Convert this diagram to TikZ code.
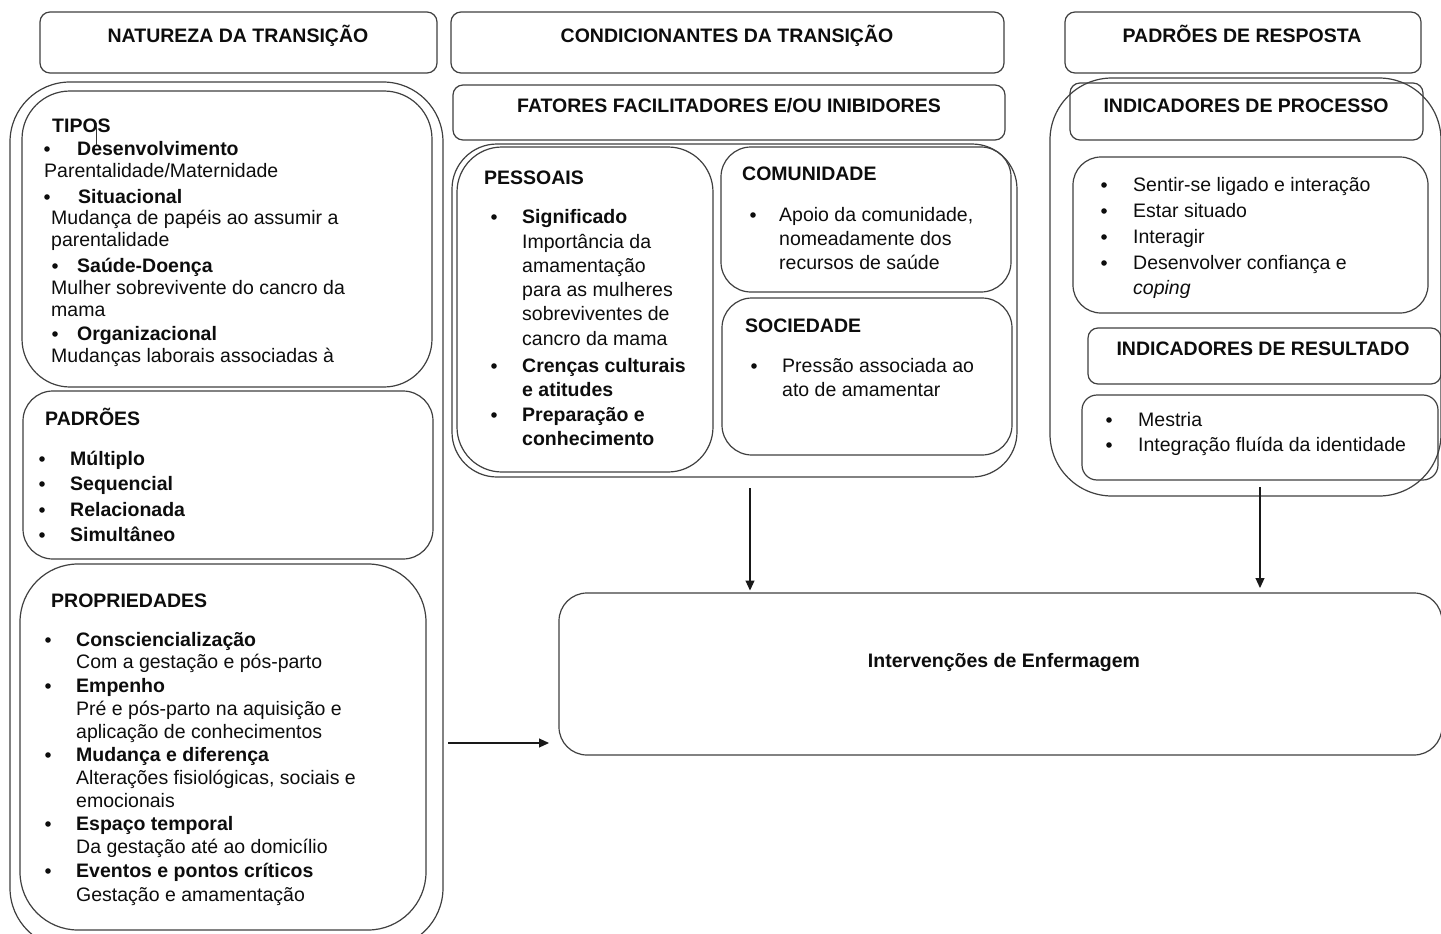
\documentclass[tikz,border=0pt]{standalone}
\usepackage{fontspec}
\setmainfont{Liberation Sans}
\usetikzlibrary{arrows.meta}
\newcounter{tn}
\newcommand\tl[3]{\stepcounter{tn}\node[txt] (t\arabic{tn}) at (#1,#2) {#3};}
\newcommand\tb[3]{\stepcounter{tn}\node[txt] (t\arabic{tn}) at (#1,#2) {\textbf{#3}};}
\newcommand\bul[2]{\stepcounter{tn}\node[dot] (t\arabic{tn}) at (#1,#2-6) {};}
\newcommand\bx[6]{\node[box,rounded corners=#6pt,minimum width={(#4-#2)*1pt},minimum height={(#5-#3)*1pt}] (#1) at ({(#2+#4)/2},{(#3+#5)/2}) {};}
\begin{document}
\begin{tikzpicture}[x=1pt,y=-1pt,
  every node/.style={font=\fontsize{19.5}{23}\selectfont},
  txt/.style={anchor=base west,inner sep=0pt,text=black!95},
  dot/.style={circle,fill=black!95,inner sep=0pt,minimum size=5.6pt},
  hdr/.style={anchor=base,inner sep=0pt,text=black!95,font=\fontsize{19.5}{23}\selectfont\bfseries},
  box/.style={draw=black!75,line width=1.2pt,inner sep=0pt,outer sep=0pt,fill=none},
  arr/.style={draw=black!90,line width=1.1pt,-{Triangle[length=10pt,width=9pt]}}]
\path[fill=white,use as bounding box] (0,0) rectangle (1441,934);

% ---------- boxes ----------
\bx{b1}{40}{12}{437}{73}{10}
\bx{b2}{451}{12}{1004}{73}{10}
\bx{b3}{1065}{12}{1421}{73}{10}
\bx{leftouter}{10}{82}{443}{948}{60}
\bx{tipos}{22}{91}{432}{387}{48}
\bx{padroes}{23}{391}{433}{559}{30}
\bx{prop}{20}{564}{426}{930}{58}
\bx{fat}{453}{85}{1005}{140}{10}
\bx{mid}{452}{144}{1017}{477}{45}
\bx{pess}{457}{147}{713}{472}{45}
\bx{com}{721}{147}{1011}{292}{30}
\bx{soc}{722}{298}{1012}{455}{30}
\bx{rightouter}{1050}{78}{1441}{496}{62}
\bx{iproc}{1070}{83}{1423}{140}{10}
\bx{plist}{1073}{157}{1428}{313}{28}
\bx{ires}{1088}{328}{1441}{384}{10}
\bx{rlist}{1082}{395}{1438}{480}{15}
\bx{int}{559}{593}{1442}{755}{28}

% ---------- headers ----------
\node[hdr] (h1) at (238,43) {NATUREZA DA TRANSIÇÃO};
\node[hdr] (h2) at (727,43) {CONDICIONANTES DA TRANSIÇÃO};
\node[hdr] (h3) at (1242,43) {PADRÕES DE RESPOSTA};
\node[hdr] (h4) at (729,112) {FATORES FACILITADORES E/OU INIBIDORES};
\node[hdr] (h5) at (1246,112) {INDICADORES DE PROCESSO};
\node[hdr] (h6) at (1263,355) {INDICADORES DE RESULTADO};
\node[hdr] (h7) at (1004,667) {Intervenções de Enfermagem};

% ---------- TIPOS ----------
\tb{52}{132}{TIPOS}
\bul{47}{155}\tb{77}{155}{Desenvolvimento}
\tl{44}{177}{Parentalidade/Maternidade}
\bul{47}{203}\tb{78}{203}{Situacional}
\tl{51}{224}{Mudança de papéis ao assumir a}
\tl{51}{246}{parentalidade}
\bul{55}{272}\tb{77}{272}{Saúde-Doença}
\tl{51}{294}{Mulher sobrevivente do cancro da}
\tl{51}{316}{mama}
\bul{55}{340}\tb{77}{340}{Organizacional}
\tl{51}{362}{Mudanças laborais associadas à}
\coordinate (cur1) at (96,123);
\coordinate (cur2) at (96,145);
\draw[black!80,line width=0.8pt] (cur1) -- (cur2);

% ---------- PADROES ----------
\tb{45}{425}{PADRÕES}
\bul{42}{465}\tb{70}{465}{Múltiplo}
\bul{42}{490}\tb{70}{490}{Sequencial}
\bul{42}{516}\tb{70}{516}{Relacionada}
\bul{42}{541}\tb{70}{541}{Simultâneo}

% ---------- PROPRIEDADES ----------
\tb{51}{607}{PROPRIEDADES}
\bul{48}{646}\tb{76}{646}{Consciencialização}
\tl{76}{668}{Com a gestação e pós-parto}
\bul{48}{692}\tb{76}{692}{Empenho}
\tl{76}{715}{Pré e pós-parto na aquisição e}
\tl{76}{738}{aplicação de conhecimentos}
\bul{48}{761}\tb{76}{761}{Mudança e diferença}
\tl{76}{784}{Alterações fisiológicas, sociais e}
\tl{76}{807}{emocionais}
\bul{48}{830}\tb{76}{830}{Espaço temporal}
\tl{76}{853}{Da gestação até ao domicílio}
\bul{48}{877}\tb{76}{877}{Eventos e pontos críticos}
\tl{76}{901}{Gestação e amamentação}

% ---------- PESSOAIS ----------
\tb{484}{184}{PESSOAIS}
\bul{494}{223}\tb{522}{223}{Significado}
\tl{522}{248}{Importância da}
\tl{522}{272}{amamentação}
\tl{522}{296}{para as mulheres}
\tl{522}{320}{sobreviventes de}
\tl{522}{345}{cancro da mama}
\bul{494}{372}\tb{522}{372}{Crenças culturais}
\tb{522}{396}{e atitudes}
\bul{494}{421}\tb{522}{421}{Preparação e}
\tb{522}{445}{conhecimento}

% ---------- COMUNIDADE ----------
\tb{742}{180}{COMUNIDADE}
\bul{753}{221}\tl{779}{221}{Apoio da comunidade,}
\tl{779}{245}{nomeadamente dos}
\tl{779}{269}{recursos de saúde}

% ---------- SOCIEDADE ----------
\tb{745}{332}{SOCIEDADE}
\bul{754}{372}\tl{782}{372}{Pressão associada ao}
\tl{782}{396}{ato de amamentar}

% ---------- PROCESSO ----------
\bul{1104}{191}\tl{1133}{191}{Sentir-se ligado e interação}
\bul{1104}{217}\tl{1133}{217}{Estar situado}
\bul{1104}{243}\tl{1133}{243}{Interagir}
\bul{1104}{269}\tl{1133}{269}{Desenvolver confiança e}
\tl{1133}{294}{\textit{coping}}

% ---------- RESULTADO ----------
\bul{1109}{426}\tl{1138}{426}{Mestria}
\bul{1109}{451}\tl{1138}{451}{Integração fluída da identidade}

% ---------- arrows ----------
\coordinate (a1) at (750,488);
\coordinate (a2) at (1260,487);
\coordinate (a3) at (448,743);
\draw[arr,shorten >=2.5pt] (a1) -- (a1 |- int.north);
\draw[arr,shorten >=5pt] (a2) -- (a2 |- int.north);
\draw[arr,shorten >=10pt] (a3) -- (a3 -| int.west);
\end{tikzpicture}
\end{document}
